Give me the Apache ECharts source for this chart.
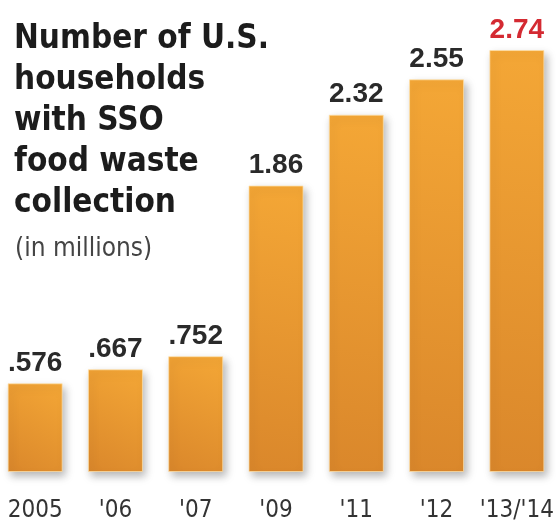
<!DOCTYPE html>
<html>
<head>
<meta charset="utf-8">
<script src="https://cdn.jsdelivr.net/npm/echarts@6/dist/echarts.min.js"></script>
<style>
html,body{margin:0;padding:0;background:#fff;}
#c{width:556px;height:525px;}
</style>
</head>
<body>
<div id="c"></div>
<script>
var categories = ["2005", "'06", "'07", "'09", "'11", "'12", "'13/'14"];
var households = [0.576, 0.667, 0.752, 1.86, 2.32, 2.55, 2.74];
var valueLabels = [".576", ".667", ".752", "1.86", "2.32", "2.55", "2.74"];
var titleLines = ["Number of U.S.", "households", "with SSO", "food waste", "collection"];
var subtitle = "(in millions)";

var narrow = "'DejaVu Sans Condensed', sans-serif";
var chart = echarts.init(document.getElementById('c'));
var barGrad = new echarts.graphic.LinearGradient(1, 0, 0, 1, [
  {offset: 0, color: '#F4A736'},
  {offset: 1, color: '#DA872B'}
]);
chart.setOption({
  backgroundColor: '#fff',
  animation: false,
  title: [{
    text: titleLines.join('\n'),
    left: 9, top: 14,
    textStyle: {fontFamily: narrow, fontWeight: 'bold', fontSize: 33, lineHeight: 41, color: '#1c1c1c'}
  }, {
    text: subtitle,
    left: 10, top: 231,
    textStyle: {fontFamily: narrow, fontWeight: 'normal', fontSize: 26, color: '#444'}
  }],
  grid: {left: -5, right: -1, top: 10, bottom: 53, outerBoundsMode: 'none', containLabel: false},
  xAxis: {
    type: 'category', data: categories,
    axisLine: {show: false}, axisTick: {show: false},
    axisLabel: {interval: 0, fontFamily: narrow, fontSize: 24, color: '#333', margin: 27}
  },
  yAxis: {type: 'value', min: 0, max: 3, show: false, splitLine: {show: false}},
  series: [{
    type: 'bar', data: households.map(function(v, i){
      return {value: v, label: {color: i === households.length - 1 ? '#D42A32' : '#2a2a2a'}};
    }),
    barWidth: 55,
    itemStyle: {
      color: barGrad,
      borderColor: 'rgba(255,225,170,0.7)', borderWidth: 1,
      shadowColor: 'rgba(0,0,0,0.28)', shadowBlur: 8, shadowOffsetX: 3, shadowOffsetY: 4
    },
    label: {
      show: true, position: 'top', distance: 6,
      fontFamily: "'Liberation Sans', Arial, sans-serif", fontWeight: 'bold', fontSize: 28,
      formatter: function(p){ return valueLabels[p.dataIndex]; }
    }
  }]
});
</script>
</body>
</html>
